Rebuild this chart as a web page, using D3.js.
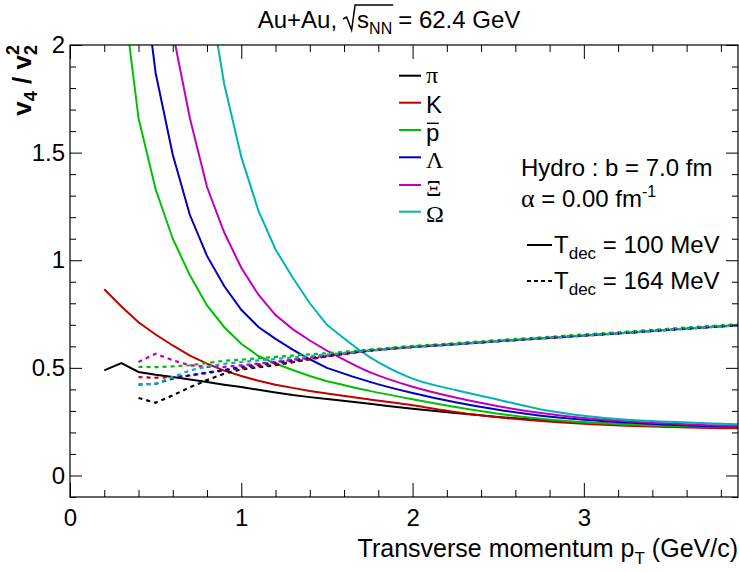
<!DOCTYPE html>
<html>
<head>
<meta charset="UTF-8">
<script src="https://cdn.jsdelivr.net/npm/d3@7"></script>
<style>
  body { margin: 0; background: #fff; }
  text { font-family: "Liberation Sans", Arial, Helvetica, sans-serif; fill: #000; }
  .greek { font-family: "Liberation Serif", "Times New Roman", serif; }
</style>
</head>
<body>
<svg id="chart" width="739" height="572"></svg>
<script>
  // pT grid (GeV/c) shared by all the curves
  var ptGrid = [0.2, 0.3, 0.4, 0.5, 0.6, 0.7, 0.8, 0.9, 1.0, 1.1, 1.2, 1.3, 1.4, 1.5,
                1.75, 2.0, 2.25, 2.5, 2.75, 3.0, 3.25, 3.5, 3.75, 3.9];

  // v4/v2^2, Tdec = 100 MeV (solid)
  var pionSolid   = [0.488, 0.522, 0.481, 0.468, 0.457, 0.446, 0.434, 0.422, 0.411, 0.398, 0.386, 0.374, 0.364, 0.355,
                     0.333, 0.310, 0.290, 0.272, 0.258, 0.246, 0.237, 0.229, 0.223, 0.220];
  var kaonSolid   = [0.865, 0.785, 0.712, 0.655, 0.604, 0.557, 0.520, 0.487, 0.462, 0.440, 0.422, 0.407, 0.393, 0.381,
                     0.353, 0.326, 0.295, 0.270, 0.253, 0.240, 0.231, 0.225, 0.221, 0.219];
  var protonSolid = [null, 2.30, 1.66, 1.33, 1.10, 0.93, 0.79, 0.69, 0.612, 0.555, 0.520, 0.490, 0.462, 0.438,
                     0.393, 0.354, 0.318, 0.287, 0.263, 0.247, 0.237, 0.230, 0.226, 0.224];
  var lambdaSolid = [null, null, 2.50, 1.87, 1.49, 1.21, 1.02, 0.88, 0.77, 0.69, 0.635, 0.585, 0.540, 0.500,
                     0.435, 0.383, 0.340, 0.305, 0.278, 0.259, 0.246, 0.236, 0.229, 0.226];
  var xiSolid     = [null, null, null, 2.60, 2.06, 1.66, 1.34, 1.13, 0.965, 0.84, 0.745, 0.68, 0.627, 0.58,
                     0.48, 0.412, 0.362, 0.322, 0.290, 0.267, 0.252, 0.241, 0.233, 0.229];
  var omegaSolid  = [null, null, null, null, null, null, 2.30, 1.82, 1.48, 1.23, 1.05, 0.92, 0.80, 0.70,
                     0.55, 0.45, 0.397, 0.352, 0.307, 0.278, 0.259, 0.250, 0.242, 0.238];

  // v4/v2^2, Tdec = 164 MeV (dashed)
  var pionDashed   = [null, null, 0.360, 0.338, 0.372, 0.410, 0.443, 0.473, 0.493, 0.503, 0.513, 0.526, 0.540, 0.554,
                      0.580, 0.597, 0.610, 0.624, 0.637, 0.650, 0.663, 0.677, 0.690, 0.698];
  var kaonDashed   = [null, null, 0.457, 0.454, 0.457, 0.465, 0.476, 0.488, 0.498, 0.508, 0.518, 0.529, 0.541, 0.553,
                      0.580, 0.597, 0.610, 0.624, 0.637, 0.650, 0.663, 0.677, 0.690, 0.698];
  var protonDashed = [null, null, 0.505, 0.503, 0.507, 0.512, 0.522, 0.533, 0.538, 0.545, 0.551, 0.557, 0.563, 0.568,
                      0.585, 0.602, 0.615, 0.629, 0.642, 0.655, 0.668, 0.682, 0.695, 0.703];
  var lambdaDashed = [null, null, 0.422, 0.426, 0.450, 0.465, 0.478, 0.490, 0.505, 0.515, 0.525, 0.535, 0.546, 0.556,
                      0.580, 0.597, 0.610, 0.624, 0.637, 0.650, 0.663, 0.677, 0.690, 0.698];
  var xiDashed     = [null, null, 0.527, 0.566, 0.535, 0.512, 0.505, 0.505, 0.512, 0.520, 0.528, 0.537, 0.547, 0.557,
                      0.580, 0.597, 0.610, 0.624, 0.637, 0.650, 0.663, 0.677, 0.690, 0.698];
  var omegaDashed  = [null, null, 0.422, 0.426, 0.457, 0.488, 0.506, 0.519, 0.527, 0.535, 0.541, 0.548, 0.555, 0.562,
                      0.580, 0.597, 0.610, 0.624, 0.637, 0.650, 0.663, 0.677, 0.690, 0.698];

  var particleNames  = ["π", "K", "p", "Λ", "Ξ", "Ω"];
  var particleColors = ["#000000", "#c00000", "#00c000", "#0000c0", "#c000c0", "#00b4b4"];
  var solidSeries  = [pionSolid, kaonSolid, protonSolid, lambdaSolid, xiSolid, omegaSolid];
  var dashedSeries = [pionDashed, kaonDashed, protonDashed, lambdaDashed, xiDashed, omegaDashed];

  var xMajor = [0, 1, 2, 3];
  var yMajor = [0, 0.5, 1, 1.5, 2];

  var svg = d3.select("#chart");
  // note: "top" is a reserved window property, so use frame* names
  var frameL = 70, frameR = 738, frameT = 45, frameB = 497;

  var x = d3.scaleLinear().domain([0, 3.9]).range([frameL, frameR]);
  var y = d3.scaleLinear().domain([-0.1, 2]).range([frameB, frameT]);

  var xMinor = d3.range(0, 3.9, 0.2).filter(v => Math.abs(v - Math.round(v)) > 1e-6);
  var yMinor = d3.range(-0.1, 2.0, 0.1).filter(v => Math.abs(v * 2 - Math.round(v * 2)) > 1e-6);

  // clip for curves
  svg.append("clipPath").attr("id", "frameClip")
    .append("rect").attr("x", frameL).attr("y", frameT).attr("width", frameR - frameL).attr("height", frameB - frameT);

  //
  // * Curves: straight segments on the fine 0.1 grid, smooth spline on the coarse part
  //
  var splitAt = 13; // index of pT = 1.5

  var lineFine = d3.line()
    .defined(d => d[1] != null)
    .x(d => x(d[0]))
    .y(d => y(d[1]));

  var lineCoarse = d3.line()
    .defined(d => d[1] != null)
    .curve(d3.curveMonotoneX)
    .x(d => x(d[0]))
    .y(d => y(d[1]));

  function curvePath(s) {
    var pts = ptGrid.map((p, j) => [p, s[j]]);
    return lineFine(pts.slice(0, splitAt + 1)) + lineCoarse(pts.slice(splitAt)).replace(/^M[^LC]*/, "");
  }

  var curves = svg.append("g").attr("clip-path", "url(#frameClip)");

  solidSeries.forEach((s, i) => {
    curves.append("path")
      .attr("d", curvePath(s))
      .attr("fill", "none")
      .attr("stroke", particleColors[i])
      .attr("stroke-width", 2);
  });

  dashedSeries.forEach((s, i) => {
    curves.append("path")
      .attr("d", curvePath(s))
      .attr("fill", "none")
      .attr("stroke", particleColors[i])
      .attr("stroke-width", 2.2)
      .attr("stroke-dasharray", "4,4");
  });

  //
  // * Axes (ROOT style, ticks inside on all four sides)
  //
  function styleAxis(g) {
    g.select(".domain").remove();
    g.selectAll("line").attr("stroke", "#000").attr("stroke-width", 1);
    g.selectAll("text").style("font-family", "'Liberation Sans', Arial, sans-serif").style("font-size", "24px").attr("fill", "#000");
  }

  svg.append("g").attr("transform", "translate(0," + frameB + ")")
    .call(d3.axisBottom(x).tickValues(xMajor).tickSize(-14).tickPadding(12).tickFormat(d3.format("")))
    .call(styleAxis);
  svg.append("g").attr("transform", "translate(0," + frameB + ")")
    .call(d3.axisBottom(x).tickValues(xMinor).tickSize(-7).tickFormat(""))
    .call(styleAxis);
  svg.append("g").attr("transform", "translate(0," + frameT + ")")
    .call(d3.axisTop(x).tickValues(xMajor).tickSize(-14).tickFormat(""))
    .call(styleAxis);
  svg.append("g").attr("transform", "translate(0," + frameT + ")")
    .call(d3.axisTop(x).tickValues(xMinor).tickSize(-7).tickFormat(""))
    .call(styleAxis);

  svg.append("g").attr("transform", "translate(" + frameL + ",0)")
    .call(d3.axisLeft(y).tickValues(yMajor).tickSize(-12).tickPadding(5).tickFormat(d3.format("")))
    .call(styleAxis);
  svg.append("g").attr("transform", "translate(" + frameL + ",0)")
    .call(d3.axisLeft(y).tickValues(yMinor).tickSize(-6).tickFormat(""))
    .call(styleAxis);
  svg.append("g").attr("transform", "translate(" + frameR + ",0)")
    .call(d3.axisRight(y).tickValues(yMajor).tickSize(-12).tickFormat(""))
    .call(styleAxis);
  svg.append("g").attr("transform", "translate(" + frameR + ",0)")
    .call(d3.axisRight(y).tickValues(yMinor).tickSize(-6).tickFormat(""))
    .call(styleAxis);

  // frame
  svg.append("rect")
    .attr("x", frameL).attr("y", frameT)
    .attr("width", frameR - frameL).attr("height", frameB - frameT)
    .attr("fill", "none").attr("stroke", "#000").attr("stroke-width", 1.2);

  //
  // * Title with radical sign
  //
  var title = svg.append("g");
  var tBase = 28;
  var t1 = title.append("text").attr("x", 0).attr("y", tBase).style("font-size", "24px").text("Au+Au,");
  var cx = t1.node().getComputedTextLength() + 6;
  var radStart = cx;
  var tS = title.append("text").attr("x", cx + 14).attr("y", tBase).style("font-size", "24px").text("s");
  var sW = tS.node().getComputedTextLength();
  var tNN = title.append("text").attr("x", cx + 14 + sW).attr("y", tBase + 6).style("font-size", "16px").text("NN");
  var radEnd = cx + 14 + sW + tNN.node().getComputedTextLength() + 1;
  title.append("path")
    .attr("d", "M" + radStart + "," + (tBase - 9) + " l3.5,-2 l5,13 L" + (radStart + 12) + "," + (tBase - 23) + " H" + radEnd)
    .attr("fill", "none").attr("stroke", "#000").attr("stroke-width", 1.5);
  var t3 = title.append("text").attr("x", radEnd + 5).attr("y", tBase).style("font-size", "24px").text("= 62.4 GeV");
  var titleW = radEnd + 5 + t3.node().getComputedTextLength();
  title.attr("transform", "translate(" + (389 - titleW / 2) + ",0)");

  //
  // * Axis titles
  //
  var xt = svg.append("text").attr("x", frameR).attr("y", 557).attr("text-anchor", "end").style("font-size", "25px");
  xt.append("tspan").text("Transverse momentum p");
  xt.append("tspan").attr("dy", 7).style("font-size", "17px").text("T");
  xt.append("tspan").attr("dy", -7).text(" (GeV/c)");

  var yt = svg.append("text")
    .attr("transform", "translate(31," + frameT + ") rotate(-90)")
    .attr("text-anchor", "end")
    .style("font-size", "26px").style("font-weight", "bold");
  yt.append("tspan").text("v");
  yt.append("tspan").attr("dy", 6).style("font-size", "18px").text("4");
  yt.append("tspan").attr("dy", -6).text(" / v");
  yt.append("tspan").attr("dy", -12).style("font-size", "18px").text("2");
  yt.append("tspan").attr("dy", 18).attr("dx", -10).style("font-size", "18px").text("2");

  //
  // * Particle legend
  //
  var legY = [75.7, 102.7, 130, 157.3, 185, 211.7];
  particleNames.forEach((n, i) => {
    svg.append("line")
      .attr("x1", 399).attr("x2", 421)
      .attr("y1", legY[i]).attr("y2", legY[i])
      .attr("stroke", particleColors[i]).attr("stroke-width", 2);
    var t = svg.append("text")
      .attr("x", 426).attr("y", legY[i] + (n === "π" ? 7.5 : 10.5))
      .style("font-size", "24px")
      .attr("class", (n === "K" || n === "p") ? null : "greek")
      .text(n);
    if (n === "p") {
      var w = t.node().getComputedTextLength();
      svg.append("line")
        .attr("x1", 427).attr("x2", 426 + w - 0.5)
        .attr("y1", legY[i] - 6.7).attr("y2", legY[i] - 6.7)
        .attr("stroke", "#000").attr("stroke-width", 1.4);
    }
  });

  //
  // * Hydro annotations
  //
  svg.append("text").attr("x", 521).attr("y", 176).style("font-size", "24px").text("Hydro : b = 7.0 fm");

  var at = svg.append("text").attr("x", 521).attr("y", 207).style("font-size", "24px");
  at.append("tspan").attr("class", "greek").style("font-size", "26px").text("α");
  at.append("tspan").text(" = 0.00 fm");
  at.append("tspan").attr("dy", -10).style("font-size", "16px").text("-1");

  var tdecRows = [{ y: 245, label: " = 100 MeV", dash: null },
                  { y: 281, label: " = 164 MeV", dash: "4,3" }];
  tdecRows.forEach(r => {
    svg.append("line")
      .attr("x1", 527).attr("x2", 552)
      .attr("y1", r.y).attr("y2", r.y)
      .attr("stroke", "#000").attr("stroke-width", 2)
      .attr("stroke-dasharray", r.dash);
    var t = svg.append("text").attr("x", 554).attr("y", r.y + 8).style("font-size", "24px");
    t.append("tspan").text("T");
    t.append("tspan").attr("dy", 6).style("font-size", "17px").text("dec");
    t.append("tspan").attr("dy", -6).text(r.label);
  });
</script>
</body>
</html>
